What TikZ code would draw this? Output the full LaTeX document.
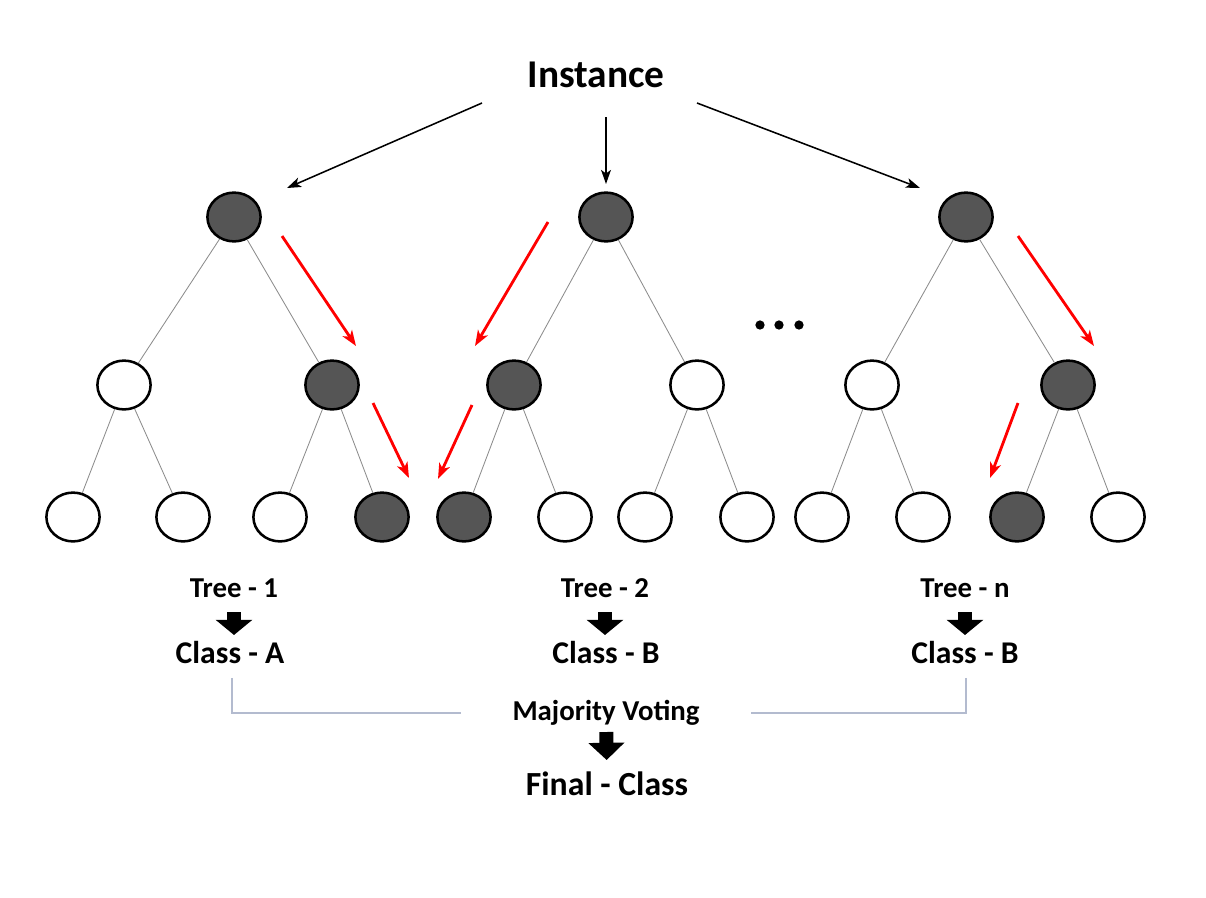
\documentclass[tikz,border=0pt]{standalone}
\usepackage{fontspec}
\setmainfont{Carlito}
\usetikzlibrary{shapes.geometric, arrows.meta, positioning, calc}
\definecolor{nodegray}{HTML}{555555}
\definecolor{votegray}{HTML}{B3BBCF}
\tikzset{
  treenode/.style={ellipse, draw=black, line width=1.8pt, minimum width=1.33cm, minimum height=1.22cm, inner sep=0pt},
  edge/.style={draw=black!45, line width=0.6pt},
  redarrow/.style={draw=red, line width=2pt, -{Stealth[length=11pt, width=8pt, inset=3pt]}},
  blackarrow/.style={draw=black, line width=1.1pt, -{Stealth[length=10pt, width=7pt, inset=2.5pt]}},
  blockarrow/.style={draw=black, line width=0.33cm, -{Triangle[length=0.38cm, width=0.9cm]}},
  label/.style={font=\fontsize{20.5}{24}\selectfont\bfseries, inner sep=1pt},
  clslabel/.style={font=\fontsize{22.5}{26}\selectfont\bfseries, inner sep=1pt},
  voteline/.style={draw=votegray, line width=0.9pt}
}

\begin{document}
\begin{tikzpicture}[x=0.025cm, y=-0.025cm]
  \useasboundingbox (0,0) rectangle (1206,897);

  % Instance
  \node[font=\fontsize{28}{32}\selectfont\bfseries] (inst) at (596,75) {Instance};

  % Tree nodes
  \foreach \n/\x/\y/\f in {r1/234/217/nodegray, a1/124/385/white, b1/332/385/nodegray,
      l11/73/517/white, l12/183/517/white, l13/280/517/white, l14/382/517/nodegray,
      r2/606/217/nodegray, a2/514/385/nodegray, b2/697/385/white,
      l21/464/517/nodegray, l22/565/517/white, l23/645/517/white, l24/747/517/white,
      r3/966/217/nodegray, a3/872/385/white, b3/1068/385/nodegray,
      l31/822/517/white, l32/923/517/white, l33/1017/517/nodegray, l34/1118/517/white} {
    \node[treenode, fill=\f] (\n) at (\x,\y) {};
  }

  % Edges
  \foreach \p/\c in {r1/a1, r1/b1, a1/l11, a1/l12, b1/l13, b1/l14,
      r2/a2, r2/b2, a2/l21, a2/l22, b2/l23, b2/l24,
      r3/a3, r3/b3, a3/l31, a3/l32, b3/l33, b3/l34} {
    \draw[edge] (\p) -- (\c);
  }

  % Instance to roots
  \draw[blackarrow] ($(inst)+(-114,28)$) -- ($(r1)+(53,-29)$);
  \draw[blackarrow] ($(inst)+(10,42)$) -- ($(r2)+(0,-33)$);
  \draw[blackarrow] ($(inst)+(101,28)$) -- ($(r3)+(-46,-29)$);

  % Decision paths
  \draw[redarrow] ($(r1)+(48,19)$) -- ($(b1)+(24,-39)$);
  \draw[redarrow] ($(b1)+(41,18)$) -- ($(l14)+(27,-39)$);
  \draw[redarrow] ($(r2)+(-58,5)$) -- ($(a2)+(-39,-39)$);
  \draw[redarrow] ($(a2)+(-42,20)$) -- ($(l21)+(-26,-38)$);
  \draw[redarrow] ($(r3)+(52,19)$) -- ($(b3)+(26,-39)$);
  \draw[redarrow] ($(b3)+(-50,18)$) -- ($(l33)+(-27,-39)$);

  % More trees
  \foreach \x in {760,779,799} {
    \fill (\x,325) circle (3.3pt);
  }

  % Tree results
  \foreach \n/\x/\txt/\cx/\cls in {1/234/Tree - 1/230/Class - A, 2/605/Tree - 2/606/Class - B, 3/965/Tree - n/965/Class - B} {
    \node[label] (t\n) at (\x,588) {\txt};
    \node[clslabel] (c\n) at (\cx,653) {\cls};
    \draw[blockarrow, shorten <=0.6cm, shorten >=0.45cm] (t\n.center) -- (t\n.center |- c\n.center);
  }

  % Voting
  \node[label] (mv) at (606,713) {Majority Voting};
  \node[font=\fontsize{24}{28}\selectfont\bfseries] (fc) at (607,784) {Final - Class};
  \draw[voteline] ($(c1.south)+(2,12)$) |- ($(mv.west)+(-50,0)$);
  \draw[voteline] ($(c3.south)+(1,12)$) |- ($(mv.east)+(50,0)$);
  \draw[blockarrow, line width=0.35cm, -{Triangle[length=0.43cm, width=0.88cm]}, shorten <=0.475cm, shorten >=0.6cm] (mv.center) -- (fc.center);
\end{tikzpicture}
\end{document}
